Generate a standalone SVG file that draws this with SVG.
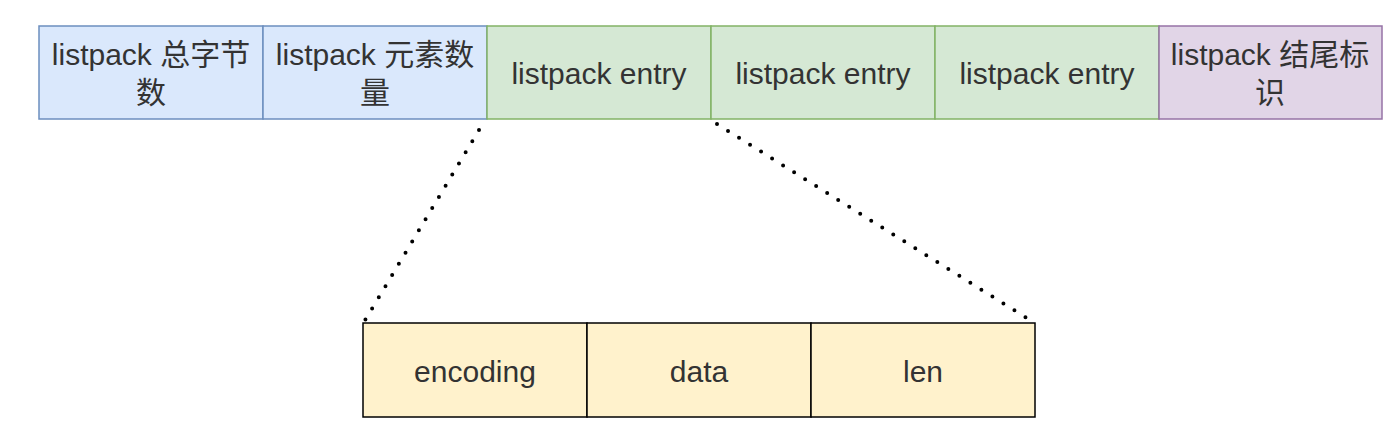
<svg xmlns="http://www.w3.org/2000/svg" width="1394" height="440" viewBox="0 0 1394 440">
<style>
text{font-family:"Liberation Sans","Noto Sans CJK SC",sans-serif;font-size:30px;fill:#333;text-anchor:middle}
.blue{fill:#dae8fc;stroke:#6c8ebf;stroke-width:1.5}
.green{fill:#d5e8d4;stroke:#82b366;stroke-width:1.5}
.purple{fill:#e1d5e7;stroke:#9673a6;stroke-width:1.5}
.yellow{fill:#fff2cc;stroke:#000;stroke-width:1.5}
.dot{stroke:#000;stroke-width:4;stroke-linecap:round;stroke-dasharray:0 13;fill:none}
</style>
<rect width="1394" height="440" fill="#fff"/>
<g id="total-bytes"><rect class="blue" x="39" y="26" width="224" height="93"/><text x="151" y="65">listpack 总字节</text><text x="151" y="103">数</text></g>
<g id="num-elements"><rect class="blue" x="263" y="26" width="224" height="93"/><text x="375" y="65">listpack 元素数</text><text x="375" y="103">量</text></g>
<g id="entry1"><rect class="green" x="487" y="26" width="224" height="93"/><text x="599" y="84">listpack entry</text></g>
<g id="entry2"><rect class="green" x="711" y="26" width="224" height="93"/><text x="823" y="84">listpack entry</text></g>
<g id="entry3"><rect class="green" x="935" y="26" width="224" height="93"/><text x="1047" y="84">listpack entry</text></g>
<g id="end-marker"><rect class="purple" x="1159" y="26" width="223" height="93"/><text x="1270" y="65">listpack 结尾标</text><text x="1270" y="103">识</text></g>
<g id="encoding"><rect class="yellow" x="363" y="323" width="224" height="94"/><text x="475" y="382">encoding</text></g>
<g id="data"><rect class="yellow" x="587" y="323" width="224" height="94"/><text x="699" y="382">data</text></g>
<g id="len"><rect class="yellow" x="811" y="323" width="224" height="94"/><text x="923" y="382">len</text></g>
<g id="connectors">
<line class="dot" x1="479" y1="130" x2="364" y2="322"/>
<line class="dot" x1="717" y1="124" x2="1033" y2="322"/>
</g>
</svg>
